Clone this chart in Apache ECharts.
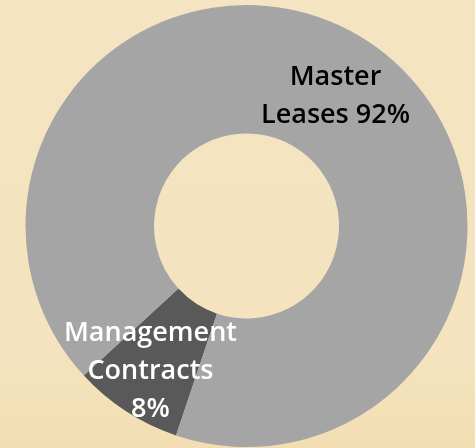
<!DOCTYPE html>
<html>
<head>
<meta charset="utf-8">
<script src="https://cdn.jsdelivr.net/npm/echarts@6/dist/echarts.min.js"></script>
<style>
html,body{margin:0;padding:0;background:#F4E3BF;}
#c{width:475px;height:448px;}
</style>
</head>
<body>
<div id="c"></div>
<script>
// Data
var categories = ['Management Contracts', 'Master Leases'];
var labelNames = ['Management\nContracts\n', 'Master\nLeases '];
var values = [8, 92];
var sliceColors = ['#595959', '#A5A5A5'];
var labelColors = ['#FFFFFF', '#000000'];

var chart = echarts.init(document.getElementById('c'), null, {renderer: 'canvas'});
chart.setOption({
  backgroundColor: {
    type: 'linear', x: 0, y: 0, x2: 0, y2: 1,
    colorStops: [
      {offset: 0, color: '#F4E4C1'},
      {offset: 0.8, color: '#F4E3BE'},
      {offset: 1, color: '#F2DEB2'}
    ]
  },
  animation: false,
  series: [{
    type: 'pie',
    center: [246.5, 226],
    radius: [92.5, 221],
    startAngle: 251.4,
    clockwise: true,
    avoidLabelOverlap: false,
    data: categories.map(function (c, i) {
      return {
        name: c,
        value: values[i],
        itemStyle: {color: sliceColors[i]},
        label: {color: labelColors[i]}
      };
    }),
    label: {
      show: true,
      position: 'inside',
      fontFamily: 'Open Sans',
      fontWeight: 600,
      fontSize: 27,
      lineHeight: 38,
      align: 'center',
      formatter: function (p) {
        return labelNames[p.dataIndex] + p.value + '%';
      }
    },
    labelLayout: function (p) {
      if (p.dataIndex === 0) return {dx: -9, dy: 11};
      return {dx: 2, dy: 4};
    },
    labelLine: {show: false},
    emphasis: {disabled: true}
  }]
});
</script>
</body>
</html>
